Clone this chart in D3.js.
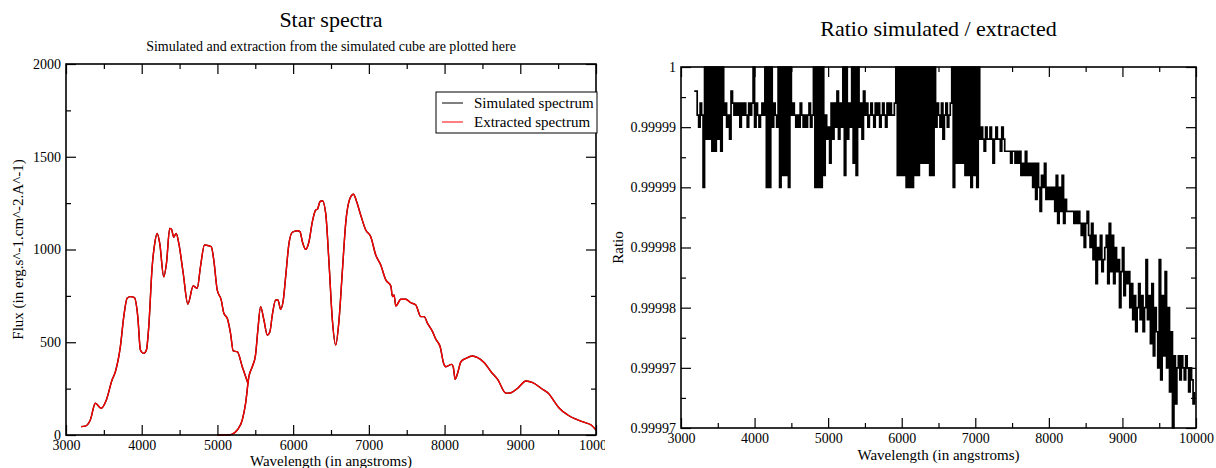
<!DOCTYPE html>
<html><head><meta charset="utf-8">
<script src="https://cdn.jsdelivr.net/npm/d3@7"></script>
<style>
body{margin:0;background:#fff}
svg{display:block}
text{font-family:"Liberation Serif","Times New Roman",serif;fill:#000}
</style>
</head><body>
<svg id="c" width="1216" height="468"></svg>
<script>
// ---------------- DATA ----------------
// Left panel: spectrum, two segments (Å, flux)
const simWaveA = [3198,3255,3321,3388,3463,3533,3608,3652,3718,3763,3807,3851,3904,3948,3983,4027,4062,4093,4138,4172,4204,4238,4291,4327,4370,4393,4423,4455,4490,4548,4609,4680,4733,4776,4829,4918,4952,4997,5050,5085,5130,5173,5209,5262,5328,5400];
const simFluxA = [45,48,81,171,144,189,296,341,476,638,737,746,740,638,458,440,458,584,907,1033,1087,1033,853,926,1114,1109,1066,1087,1033,872,706,803,791,907,1024,1015,943,782,728,656,629,548,453,449,368,282];
const simWaveB = [4997,5130,5196,5262,5328,5372,5415,5460,5503,5534,5570,5614,5659,5693,5725,5769,5799,5835,5870,5901,5945,5990,6056,6090,6122,6165,6209,6254,6298,6320,6355,6386,6430,6474,6518,6562,6606,6651,6694,6751,6796,6839,6892,6959,7025,7091,7157,7224,7290,7312,7333,7356,7422,7488,7554,7620,7686,7730,7775,7841,7885,7942,7987,8017,8093,8114,8140,8172,8216,8282,8370,8437,8525,8614,8701,8811,8878,8966,9075,9164,9274,9384,9450,9516,9627,9737,9847,9936,10000];
const simFluxB = [0,0,5,27,81,171,314,368,431,566,692,620,539,557,647,728,728,678,728,853,1033,1093,1101,1096,1042,1001,1042,1150,1213,1217,1258,1263,1195,926,620,485,620,889,1141,1276,1298,1258,1186,1105,1069,970,916,836,803,746,755,695,732,732,713,701,638,638,602,557,516,476,387,368,381,368,300,333,395,413,426,417,390,341,300,225,228,252,291,282,252,219,180,144,108,85,68,54,27];
// Extracted spectrum (indistinguishable from the simulated one at this scale)
const extWaveA = simWaveA.slice(), extFluxA = simFluxA.slice();
const extWaveB = simWaveB.slice(), extFluxB = simFluxB.slice();

const xTicks = [3000,4000,5000,6000,7000,8000,9000,10000];
const xMinor = [3500,4500,5500,6500,7500,8500,9500];
const fluxTicks = [0,500,1000,1500,2000];
const fluxMinor = [250,750,1250,1750];

// Right panel: ratio, sampled every 20 Å from 3180 Å, stored as deficit from 1 in units of 1e-6
const ratioStart = 3180, ratioStep = 20;
const ratioDeficit = [
 2,2,4,5,3,4,10,0,6,0,6,0,7,0,7,0,6,0,7,0,4,3,5,4,6,
 2,3,4,3,4,3,5,3,4,3,4,5,3,4,3,0,5,3,4,5,4,3,4,0,10,
 0,10,0,5,3,4,5,0,10,0,9,0,9,0,10,0,4,3,4,5,4,5,3,4,5,
 4,5,4,3,5,4,0,10,0,10,0,10,0,9,4,6,5,8,3,6,3,5,2,6,3,
 5,0,9,0,6,3,5,0,8,0,9,0,5,3,6,2,4,3,5,4,3,4,5,3,4,
 3,5,4,3,4,5,3,4,3,4,4,3,0,9,0,9,0,9,0,10,0,10,0,10,0,
 9,0,9,0,8,0,8,0,8,0,9,0,9,0,5,3,4,5,3,6,4,3,5,4,3,
 0,10,0,8,0,8,0,8,0,9,0,9,0,10,0,9,0,10,0,6,5,6,7,5,6,
 6,5,6,8,6,5,6,6,7,5,6,7,7,7,7,8,7,7,8,7,8,7,9,8,9,
 7,9,8,9,8,10,8,11,8,10,12,9,10,8,11,10,11,10,11,10,12,9,13,10,12,
 9,13,11,12,12,12,12,12,13,12,13,12,13,14,13,15,13,12,14,15,13,16,14,18,15,
 16,14,17,16,15,14,18,13,17,14,18,15,17,16,20,17,15,19,17,18,17,20,18,21,19,
 22,20,18,21,19,22,20,16,21,19,23,18,24,20,22,25,16,26,19,24,17,25,20,27,22,
 30,24,28,25,24,26,24,25,26,24,25,27,25,26,28,27
];
const ratioTicks = [0.99997,0.999975,0.99998,0.999985,0.99999,0.999995,1];
const ratioTickLabels = ["0.99997","0.99997","0.99998","0.99998","0.99999","0.99999","1"];
const ratioMinor = [0.9999725,0.9999775,0.9999825,0.9999875,0.9999925,0.9999975];

// ---------------- DRAW ----------------
const svg = d3.select('#c');
svg.append('defs').append('clipPath').attr('id','leftClip')
  .append('rect').attr('x',0).attr('y',0).attr('width',605).attr('height',468);

function frame(g, x, y, xMaj, xMin, yMaj, yMin, yFmt){
  const [x0,x1] = x.range(), [y0,y1] = y.range();
  const mk = (axis, tr, maj, min, labels, fmt) => {
    const ga = g.append('g').attr('transform', tr)
      .call(axis.tickValues(maj).tickSize(-10).tickPadding(labels?5:0).tickFormat(labels?fmt:()=>''));
    ga.select('.domain').remove();
    ga.selectAll('text').style('font-size','14px').style('font-family','"Liberation Serif",serif');
    ga.selectAll('line').attr('stroke','#000').attr('stroke-width',1.2);
    const gm = g.append('g').attr('transform', tr)
      .call(axis.tickValues(min).tickSize(-5).tickFormat(()=>''));
    gm.select('.domain').remove();
    gm.selectAll('line').attr('stroke','#000').attr('stroke-width',1.2);
  };
  mk(d3.axisBottom(x), `translate(0,${y0})`, xMaj, xMin, true, d3.format('d'));
  mk(d3.axisTop(x), `translate(0,${y1})`, xMaj, xMin, false);
  mk(d3.axisLeft(y), `translate(${x0},0)`, yMaj, yMin, true, yFmt);
  mk(d3.axisRight(y), `translate(${x1},0)`, yMaj, yMin, false);
  g.append('rect').attr('x',x0).attr('y',y1).attr('width',x1-x0).attr('height',y0-y1)
    .attr('fill','none').attr('stroke','#000').attr('stroke-width',1.6);
}

// Left panel
const xL = d3.scaleLinear().domain([3000,10000]).range([66,596]);
const yL = d3.scaleLinear().domain([0,2000]).range([435,64]);
const gL = svg.append('g').attr('clip-path','url(#leftClip)');
const lineL = d3.line().x(d=>xL(d[0])).y(d=>yL(d[1])).curve(d3.curveMonotoneX);
const zip = (a,b)=>a.map((v,i)=>[v,b[i]]);
[[simWaveA,simFluxA,'#000'],[simWaveB,simFluxB,'#000'],[extWaveA,extFluxA,'#ff0000'],[extWaveB,extFluxB,'#ff0000']].forEach(([w,f,c])=>{
  gL.append('path').datum(zip(w,f)).attr('d',lineL).attr('fill','none').attr('stroke',c).attr('stroke-width',1.4);
});
frame(gL, xL, yL, xTicks, xMinor, fluxTicks, fluxMinor, d3.format('d'));

gL.append('text').attr('x',331).attr('y',27).attr('text-anchor','middle').style('font-size','22px').text('Star spectra');
gL.append('text').attr('x',331).attr('y',51).attr('text-anchor','middle').style('font-size','14px').text('Simulated and extraction from the simulated cube are plotted here');
gL.append('text').attr('x',331).attr('y',466).attr('text-anchor','middle').style('font-size','15px').text('Wavelength (in angstroms)');
gL.append('text').attr('transform','translate(23,249.5) rotate(-90)').attr('text-anchor','middle').style('font-size','15px').text('Flux (in erg.s^-1.cm^-2.A^-1)');

// legend
const lg = gL.append('g');
lg.append('rect').attr('x',436).attr('y',92).attr('width',161).attr('height',41).attr('fill','#fff').attr('stroke','#000').attr('stroke-width',1);
[['Simulated spectrum','#000',103],['Extracted spectrum','#ff0000',122]].forEach(([t,c,yy])=>{
  lg.append('line').attr('x1',442).attr('x2',463).attr('y1',yy).attr('y2',yy).attr('stroke',c).attr('stroke-width',1);
  lg.append('text').attr('x',474).attr('y',yy+5).style('font-size','15px').text(t);
});

// Right panel
const xR = d3.scaleLinear().domain([3000,10000]).range([681,1196]);
const yR = d3.scaleLinear().domain([0.99997,1]).range([428,67]);
const gR = svg.append('g');
const ratioData = ratioDeficit.map((d,i)=>[ratioStart+i*ratioStep, 1-d*1e-6]);
gR.append('path').datum(ratioData)
  .attr('d', d3.line().x(d=>xR(d[0])).y(d=>yR(d[1])).curve(d3.curveStepAfter))
  .attr('fill','none').attr('stroke','#000').attr('stroke-width',1.7);
frame(gR, xR, yR, xTicks, xMinor, ratioTicks, ratioMinor, (d)=>ratioTickLabels[ratioTicks.indexOf(d)]);

gR.append('text').attr('x',938.5).attr('y',36).attr('text-anchor','middle').style('font-size','22px').text('Ratio simulated / extracted');
gR.append('text').attr('x',938.5).attr('y',460).attr('text-anchor','middle').style('font-size','15px').text('Wavelength (in angstroms)');
gR.append('text').attr('transform','translate(623,247.5) rotate(-90)').attr('text-anchor','middle').style('font-size','15px').text('Ratio');
</script>
</body></html>
